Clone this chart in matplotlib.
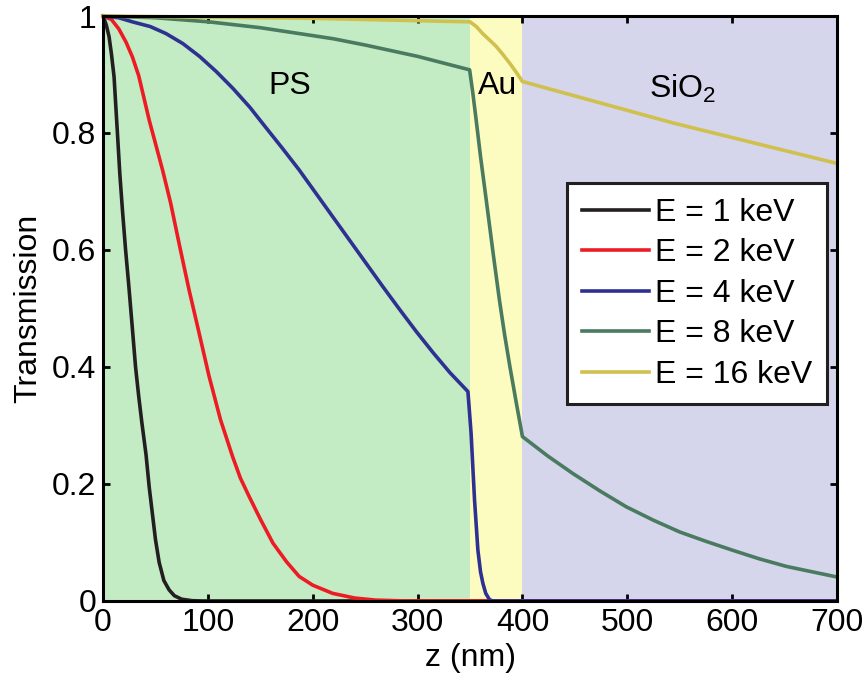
import matplotlib
matplotlib.use("Agg")
import matplotlib.pyplot as plt

plt.rcParams["font.family"] = ["Liberation Sans", "DejaVu Sans"]
plt.rcParams["mathtext.default"] = "regular"

# layer boundaries (nm)
layers = ["PS", "Au", "SiO$_2$"]
layer_edges = [0, 350, 400, 700]
layer_colors = ["#c3ecc5", "#fcfcc0", "#d5d5ec"]

# transmission curves
z_1kev = [0, 3, 5.7, 8, 10.5, 13.7, 16, 18.5, 21.5, 24.5, 28, 31, 34, 37, 41, 44, 47, 50,
          53.5, 58, 63, 68, 75, 85, 95, 700]
t_1kev = [1.0, 0.985, 0.965, 0.935, 0.896, 0.80, 0.73, 0.668, 0.60, 0.54, 0.465, 0.40, 0.35,
          0.305, 0.25, 0.195, 0.15, 0.105, 0.066, 0.035, 0.019, 0.009, 0.003, 0.0005, 0.0, 0.0]

z_2kev = [0, 8, 15, 22, 28, 34, 44, 50, 57, 64.5, 73, 82, 92, 101, 112, 123.5, 131, 139.5,
          150, 162, 175, 187, 200, 219, 240, 260, 290, 700]
t_2kev = [1.0, 0.994, 0.978, 0.955, 0.93, 0.898, 0.822, 0.782, 0.735, 0.68, 0.607, 0.532, 0.455,
          0.385, 0.31, 0.247, 0.21, 0.178, 0.14, 0.099, 0.067, 0.042, 0.027, 0.013, 0.005, 0.0015,
          0.0, 0.0]

z_4kev = [0, 15, 28, 45, 60, 76, 92, 108, 124, 140, 155, 171, 187, 203, 219, 235, 251, 267,
          283, 299, 315, 331, 348, 351, 354.3, 357.5, 360, 362.3, 365, 368.7, 372, 700]
t_4kev = [1.0, 0.997, 0.99, 0.982, 0.97, 0.953, 0.931, 0.905, 0.876, 0.844, 0.81, 0.774, 0.737,
          0.697, 0.657, 0.617, 0.577, 0.537, 0.498, 0.46, 0.424, 0.39, 0.358, 0.287, 0.173,
          0.087, 0.05, 0.03, 0.013, 0.002, 0.0, 0.0]

z_8kev = [0, 50, 101, 150, 187, 220, 251, 300, 349.6, 352.7, 356, 360, 365.5, 372, 378, 383,
          388, 394, 400, 424, 448, 474, 499, 525, 550, 575, 600, 626, 652, 676, 700]
t_8kev = [1.0, 0.997, 0.99, 0.98, 0.97, 0.961, 0.95, 0.931, 0.908, 0.868, 0.82, 0.76, 0.685,
          0.595, 0.515, 0.455, 0.401, 0.34, 0.281, 0.248, 0.218, 0.188, 0.161, 0.138, 0.118,
          0.102, 0.087, 0.072, 0.059, 0.05, 0.041]

z_16kev = [0, 100, 200, 300, 350, 356, 362, 368, 375, 381, 388, 394, 400, 544, 700]
t_16kev = [1.0, 0.998, 0.996, 0.992, 0.99, 0.982, 0.97, 0.96, 0.948, 0.935, 0.919, 0.904,
           0.888, 0.817, 0.748]

energies = ["1", "2", "4", "8", "16"]
line_colors = ["#231f20", "#ed1c24", "#2e3192", "#4a7a5f", "#d0c04e"]

fig = plt.figure(figsize=(8.66, 6.81), dpi=100)
ax = fig.add_axes([0.119, 0.1175, 0.8475, 0.859])

for left, right, color in zip(layer_edges[:-1], layer_edges[1:], layer_colors):
    ax.axvspan(left, right, color=color, lw=0, zorder=0)

curves = [(z_1kev, t_1kev), (z_2kev, t_2kev), (z_4kev, t_4kev), (z_8kev, t_8kev), (z_16kev, t_16kev)]
for (z, t), energy, color in zip(curves, energies, line_colors):
    ax.plot(z, t, color=color, lw=2.6, label=f"E = {energy} keV", zorder=3, clip_on=False,
            solid_joinstyle="round")

# layer names
ax.text(178, 0.88, layers[0], fontsize=23, ha="center", va="center")
ax.text(376, 0.88, layers[1], fontsize=23, ha="center", va="center")
ax.text(553, 0.875, layers[2], fontsize=23, ha="center", va="center")

ax.set_xlim(0, 700)
ax.set_ylim(0, 1)
ax.set_xticks(range(0, 701, 100))
ax.set_yticks([0, 0.2, 0.4, 0.6, 0.8, 1])
ax.set_yticklabels(["0", "0.2", "0.4", "0.6", "0.8", "1"])
ax.set_xlabel("z (nm)", fontsize=23, labelpad=4)
ax.set_ylabel("Transmission", fontsize=23, labelpad=6)
ax.tick_params(direction="in", length=5, width=2, labelsize=23, top=True, right=True, pad=5)
for spine in ax.spines.values():
    spine.set_linewidth(2.2)
    spine.set_zorder(4)

leg = ax.legend(loc="upper right", bbox_to_anchor=(0.986, 0.714), fontsize=23, frameon=True,
                fancybox=False, edgecolor="#231f20", framealpha=1, handlelength=2.1,
                handletextpad=0.2, borderpad=0.45, labelspacing=0.33, borderaxespad=0)
leg.get_frame().set_linewidth(2.2)

fig.savefig("out.png", dpi=100)
